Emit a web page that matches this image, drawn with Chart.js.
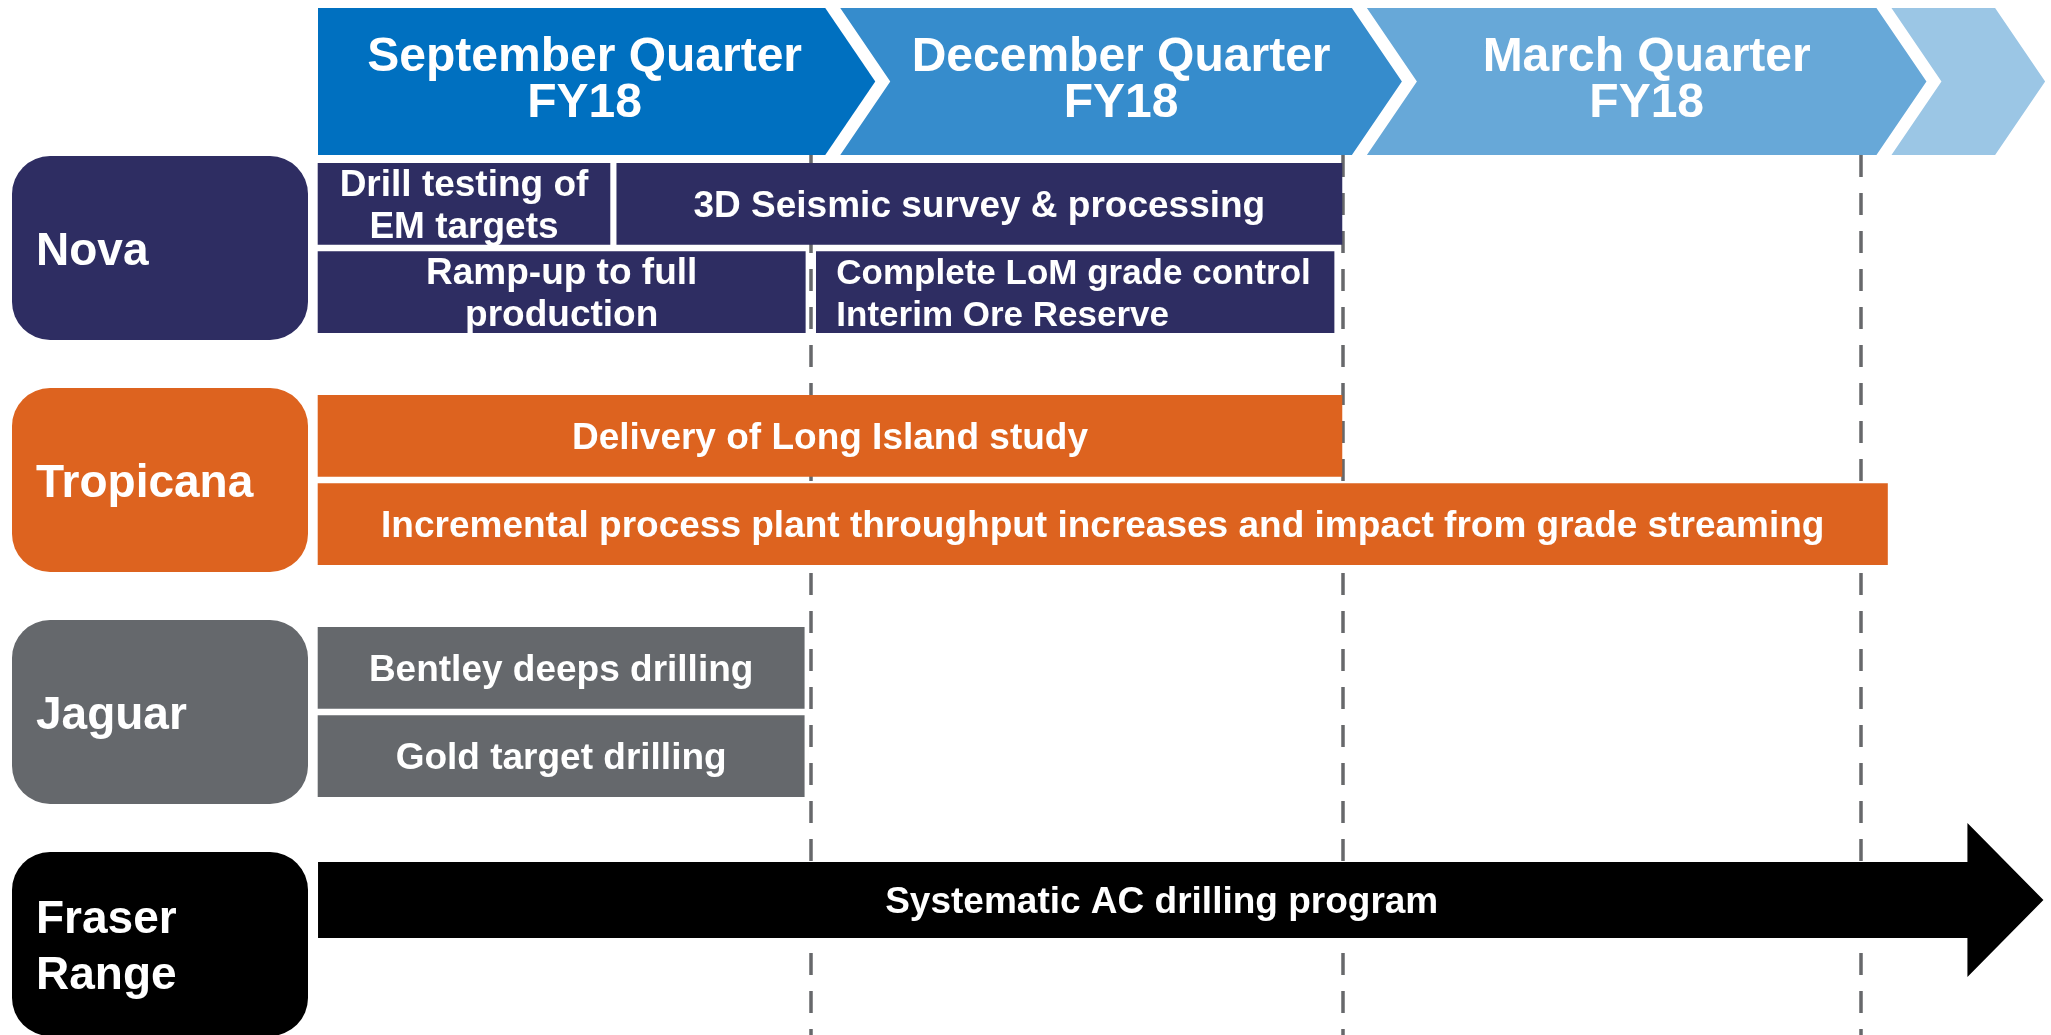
<!DOCTYPE html>
<html lang="en">
<head>
    <meta charset="UTF-8">
    <title>Exploration timeline FY18</title>
    <script src="https://cdn.jsdelivr.net/npm/chart.js"></script>
    <style>
        body { margin: 0; background: #fff; }
        #wrap { width: 2051px; height: 1035px; }
    </style>
</head>
<body>
    <div id="wrap"><canvas id="timelineChart"></canvas></div>

    <script>
        // categories and values (x in quarters, 0 = left edge of the timeline)
        const groupNames = ['Nova', 'Tropicana', 'Jaguar', 'Fraser\nRange'];
        const quarterLabels = ['September Quarter\nFY18', 'December Quarter\nFY18', 'March Quarter\nFY18', ''];
        const quarterEnds = [1, 2.013, 3];
        const headerEnds = [1.027, 2.030, 3.029, 3.255];

        const taskLabels = [
            'Drill testing of\nEM targets',
            '3D Seismic survey & processing',
            'Ramp-up to full\nproduction',
            'Complete LoM grade control\nInterim Ore Reserve',
            'Delivery of Long Island study',
            'Incremental process plant throughput increases and impact from grade streaming',
            'Bentley deeps drilling',
            'Gold target drilling',
            'Systematic AC drilling program'
        ];
        const taskGroup = [0, 0, 0, 0, 1, 1, 2, 2, 3];
        const taskLane = [0, 0, 1, 1, 0, 1, 0, 1, 0];
        const taskStart = [0.061, 0.630, 0.061, 1.010, 0.061, 0.061, 0.061, 0.061, 0.061];
        const taskEnd = [0.617, 2.011, 0.989, 1.996, 2.011, 3.050, 0.987, 0.987, 3.347];

        // styles
        const groupColors = ['#2E2D62', '#DD631F', '#65686C', '#000000'];
        const headerColors = ['#0070C0', '#368CCC', '#67A8D8', '#9BC6E5'];
        const taskAlign = ['center', 'center', 'center', 'left', 'center', 'center', 'center', 'center', 'center'];
        const taskFont = [37, 37, 37, 35, 37, 37, 37, 37, 37];
        const FONT = '"Liberation Sans", Arial, sans-serif';

        function drawLines(ctx, text, cx, cy, size, lh, align) {
            const lines = text.split('\n');
            const capH = size * 0.716;
            ctx.font = 'bold ' + size + 'px ' + FONT;
            ctx.textAlign = align;
            ctx.textBaseline = 'alphabetic';
            ctx.fillStyle = '#fff';
            lines.forEach((ln, i) => {
                const by = cy + (i - (lines.length - 1) / 2) * lh + capH / 2;
                ctx.fillText(ln, cx, by);
            });
        }

        const timelinePlugin = {
            id: 'timeline',
            beforeDatasetsDraw(chart) {
                const { ctx, scales: { x, y } } = chart;
                ctx.save();

                // dashed quarter lines
                ctx.strokeStyle = '#67686B';
                ctx.lineWidth = 3.5;
                ctx.setLineDash([22, 16]);
                quarterEnds.forEach(q => {
                    const px = Math.round(x.getPixelForValue(q));
                    ctx.beginPath();
                    ctx.moveTo(px, 155);
                    ctx.lineTo(px, chart.height);
                    ctx.stroke();
                });
                ctx.setLineDash([]);

                // quarter chevrons
                const top = 8, bot = 155, mid = (top + bot) / 2, depth = 50;
                let left = x.getPixelForValue(Math.min(...taskStart));
                headerEnds.forEach((he, i) => {
                    const r = x.getPixelForValue(he);
                    ctx.fillStyle = headerColors[i];
                    ctx.beginPath();
                    ctx.moveTo(left, top);
                    ctx.lineTo(r, top);
                    ctx.lineTo(r + depth, mid);
                    ctx.lineTo(r, bot);
                    ctx.lineTo(left, bot);
                    if (i > 0) ctx.lineTo(left + depth, mid);
                    ctx.closePath();
                    ctx.fill();
                    if (quarterLabels[i]) {
                        const cx = (left + r + depth) / 2 - (i === 0 ? 12 : 0);
                        drawLines(ctx, quarterLabels[i], cx, mid - 5, 48, 46, 'center');
                    }
                    left = r + 15;
                });

                // group boxes
                groupNames.forEach((g, i) => {
                    const cy = y.getPixelForValue(i);
                    ctx.fillStyle = groupColors[i];
                    ctx.beginPath();
                    ctx.roundRect(12, cy - 92, 296, 184, 38);
                    ctx.fill();
                    drawLines(ctx, g, 36, cy + 1, 46, 56, 'left');
                });
                ctx.restore();
            },
            afterDatasetsDraw(chart) {
                const { ctx } = chart;
                ctx.save();
                chart.data.datasets.forEach((ds, d) => {
                    const meta = chart.getDatasetMeta(d);
                    meta.data.forEach((el, j) => {
                        const p = el.getProps(['x', 'y', 'base', 'height'], true);
                        const k = ds.data[j].task;
                        let right = p.x;
                        if (ds.arrow) {
                            const head = 76, headH = 154;
                            ctx.fillStyle = groupColors[d];
                            ctx.beginPath();
                            ctx.moveTo(p.base, p.y - p.height / 2);
                            ctx.lineTo(p.x - head, p.y - p.height / 2);
                            ctx.lineTo(p.x - head, p.y - headH / 2);
                            ctx.lineTo(p.x, p.y);
                            ctx.lineTo(p.x - head, p.y + headH / 2);
                            ctx.lineTo(p.x - head, p.y + p.height / 2);
                            ctx.lineTo(p.base, p.y + p.height / 2);
                            ctx.closePath();
                            ctx.fill();
                            right = p.x - head / 2;
                        }
                        const cx = taskAlign[k] === 'left' ? p.base + 20 : (p.base + right) / 2;
                        drawLines(ctx, taskLabels[k], cx, p.y, taskFont[k], 42, taskAlign[k]);
                    });
                });
                ctx.restore();
            }
        };

        const datasets = groupNames.map((g, gi) => {
            const data = [];
            taskLabels.forEach((t, k) => {
                if (taskGroup[k] !== gi) return;
                data.push({ x: [taskStart[k], taskEnd[k]], y: gi + (taskLane[k] ? 0.19 : -0.19), task: k });
            });
            const isArrow = gi === 3;
            return {
                label: g.replace('\n', ' '),
                data: data,
                arrow: isArrow,
                backgroundColor: isArrow ? 'rgba(0,0,0,0)' : groupColors[gi],
                borderWidth: 0,
                barThickness: isArrow ? 76 : 81,
                grouped: false
            };
        });

        const ctx = document.getElementById('timelineChart').getContext('2d');
        new Chart(ctx, {
            type: 'bar',
            data: { datasets: datasets },
            plugins: [timelinePlugin],
            options: {
                indexAxis: 'y',
                responsive: true,
                maintainAspectRatio: false,
                animation: false,
                layout: { padding: { left: 286, right: 6, top: 0, bottom: 0 } },
                plugins: { legend: { display: false }, tooltip: { enabled: false } },
                scales: {
                    x: { type: 'linear', min: 0, max: 3.35, offset: false, display: false },
                    y: { type: 'linear', reverse: true, offset: false, min: -248 / 232, max: (1035 - 248) / 232, display: false }
                }
            }
        });
    </script>
</body>
</html>
